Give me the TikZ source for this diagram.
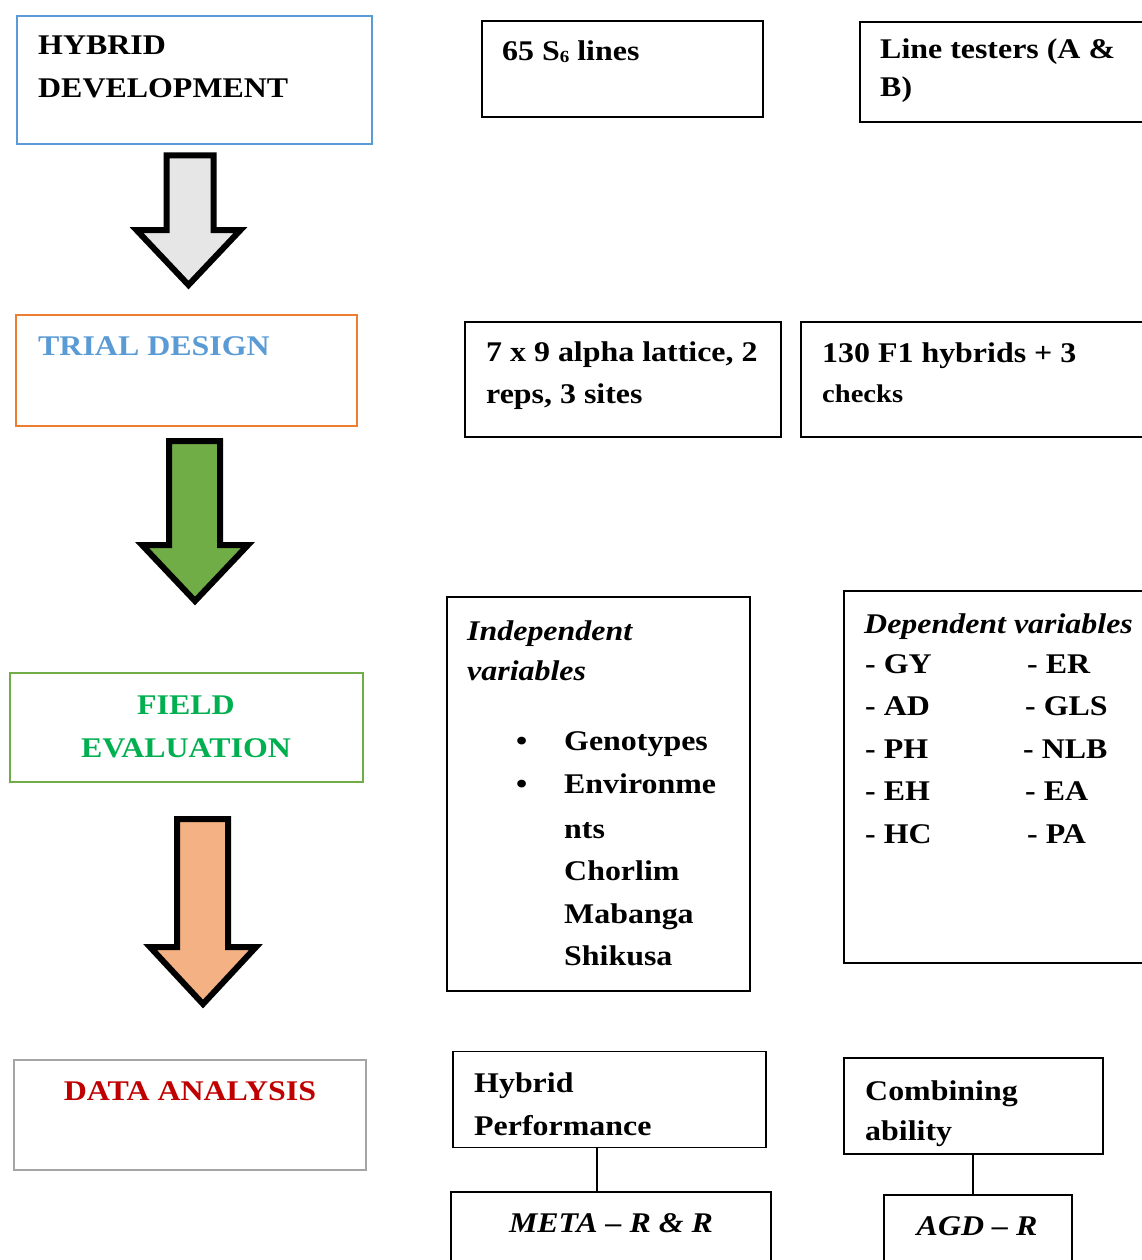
\documentclass[tikz,border=0pt]{standalone}
\usepackage{fontspec}
\setmainfont{Liberation Serif}[FakeStretch=1.12]
\definecolor{hdblue}{HTML}{5B9BD5}
\definecolor{tdorange}{HTML}{ED7D31}
\definecolor{fegreen}{HTML}{70AD47}
\definecolor{fetext}{HTML}{00B050}
\definecolor{dagray}{HTML}{A5A5A5}
\definecolor{dared}{HTML}{C00000}
\definecolor{arrgray}{HTML}{E7E6E6}
\definecolor{arrgreen}{HTML}{70AD47}
\definecolor{arrpeach}{HTML}{F4B183}
\tikzset{
  box/.style={draw=black, line width=1.6pt, anchor=north west, inner sep=0pt, outer sep=0pt},
  stagebox/.style={box, line width=2pt},
  txt/.style={anchor=base west, inner sep=0pt, font=\fontsize{28.5}{28.5}\selectfont\bfseries},
  ctxt/.style={txt, anchor=base},
  itxt/.style={txt, font=\fontsize{28.5}{28.5}\selectfont\bfseries\itshape},
  citxt/.style={itxt, anchor=base},
  bigarrow/.style={line width=6pt, line join=miter, draw=black},
  conn/.style={draw=black, line width=1.3pt},
}
\begin{document}
\begin{tikzpicture}[x=1pt, y=-1pt]
\useasboundingbox (0,0) rectangle (1142,1260);
\fill[white] (0,0) rectangle (1142,1260);
\clip (0,0) rectangle (1142,1260);

% ---- stage boxes (left column)
\node[stagebox, draw=hdblue, minimum width=355pt, minimum height=128pt] (hd) at (17,16) {};
\node[stagebox, draw=tdorange, minimum width=341pt, minimum height=111pt] (td) at (16,315) {};
\node[stagebox, draw=fegreen, minimum width=353pt, minimum height=109pt] (fe) at (10,673) {};
\node[stagebox, draw=dagray, minimum width=352pt, minimum height=110pt] (da) at (14,1060) {};

\node[txt] (hdt1) at (38,55) {HYBRID};
\node[txt] (hdt2) at (38,98) {DEVELOPMENT};
\node[txt, text=hdblue] (tdt) at (38,355) {TRIAL DESIGN};
\node[ctxt, text=fetext] (fet1) at (186,714) {FIELD};
\node[ctxt, text=fetext] (fet2) at (186,757) {EVALUATION};
\node[ctxt, text=dared] (dat) at (190,1100) {DATA ANALYSIS};

% ---- block arrows
\draw[bigarrow, fill=arrgray] (166.5,155.5) -- (213.5,155.5) -- (213.5,230) -- (240.5,230) -- (188.5,285) -- (136.5,230) -- (166.5,230) -- cycle;
\draw[bigarrow, fill=arrgreen] (169,441) -- (220,441) -- (220,545) -- (248,545) -- (195,601) -- (142,545) -- (169,545) -- cycle;
\draw[bigarrow, fill=arrpeach] (177,819) -- (228,819) -- (228,947) -- (256,947) -- (203,1004) -- (150,947) -- (177,947) -- cycle;

% ---- right boxes
\node[box, minimum width=281pt, minimum height=96pt] (s6) at (482,21) {};
\node[box, minimum width=300pt, minimum height=100pt] (lt) at (860,22) {};
\node[box, minimum width=316pt, minimum height=115pt] (al) at (465,322) {};
\node[box, minimum width=360pt, minimum height=115pt] (f1) at (801,322) {};
\node[box, minimum width=303pt, minimum height=394pt] (iv) at (447,597) {};
\node[box, minimum width=320pt, minimum height=372pt] (dv) at (844,591) {};
\node[box, minimum width=313pt, minimum height=96pt] (hp) at (453,1051.5) {};
\node[box, minimum width=259pt, minimum height=96pt] (cb) at (844,1058) {};
\node[box, minimum width=320pt, minimum height=90pt] (meta) at (451,1192) {};
\node[box, minimum width=188pt, minimum height=90pt] (agd) at (884,1195) {};

\node[txt] (s6t) at (502,61) {65 S\raisebox{-1.5pt}{\fontsize{17}{17}\selectfont 6} lines};
\node[txt] (ltt1) at (880,59) {Line testers (A \&};
\node[txt] (ltt2) at (880,97) {B)};
\node[txt] (alt1) at (486,361) {7 x 9 alpha lattice, 2};
\node[txt] (alt2) at (486,403) {reps, 3 sites};
\node[txt] (f1t1) at (822,362) {130 F1 hybrids + 3};
\node[txt, font=\fontsize{25.5}{25.5}\selectfont\bfseries] (f1t2) at (822,402) {checks};

\node[itxt] (ivh1) at (467,640) {Independent};
\node[itxt] (ivh2) at (467,680) {variables};
\node[txt] (b1) at (516,750) {•};
\node[txt] (b2) at (516,793) {•};
\node[txt] (iv1) at (564,750) {Genotypes};
\node[txt] (iv2) at (564,793) {Environme};
\node[txt] (iv3) at (564,838) {nts};
\node[txt] (iv4) at (564,880) {Chorlim};
\node[txt] (iv5) at (564,923) {Mabanga};
\node[txt] (iv6) at (564,965) {Shikusa};

\node[itxt] (dvh) at (864,633) {Dependent variables};
\node[txt] (d1) at (865,673) {- GY};
\node[txt] (d2) at (865,715) {- AD};
\node[txt] (d3) at (865,758) {- PH};
\node[txt] (d4) at (865,800) {- EH};
\node[txt] (d5) at (865,843) {- HC};
\node[txt] (e1) at (1027,673) {- ER};
\node[txt] (e2) at (1025,715) {- GLS};
\node[txt] (e3) at (1023,758) {- NLB};
\node[txt] (e4) at (1025,800) {- EA};
\node[txt] (e5) at (1027,843) {- PA};

\node[txt] (hpt1) at (474,1092) {Hybrid};
\node[txt] (hpt2) at (474,1135) {Performance};
\node[txt] (cbt1) at (865,1100) {Combining};
\node[txt] (cbt2) at (865,1140) {ability};
\node[citxt] (metat) at (611,1232) {META – R \& R};
\node[citxt] (agdt) at (977,1235) {AGD – R};

% ---- connectors
\draw[conn] ([xshift=-12.5pt]hp.south) -- ([xshift=-12.5pt]hp.south |- meta.north);
\draw[conn] ([xshift=-0.5pt]cb.south) -- ([xshift=-0.5pt]cb.south |- agd.north);
\end{tikzpicture}
\end{document}
